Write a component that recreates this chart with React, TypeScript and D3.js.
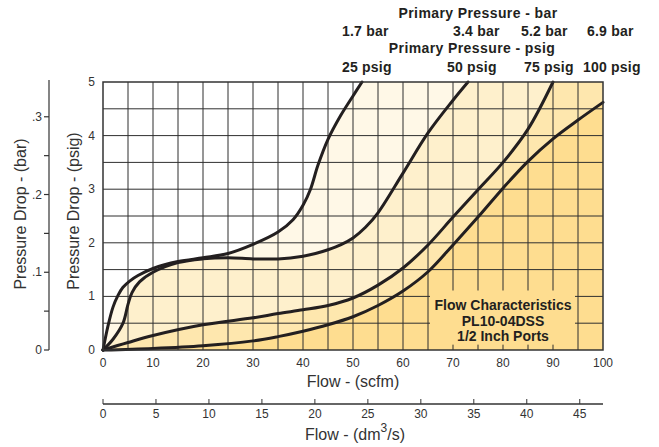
import React, { useRef, useEffect } from "react";
import * as d3 from "d3";

// flow (scfm) vs pressure drop (psig), one curve per primary pressure
const curve25psig: [number, number][] = [
    [0, 0], [1, 0.45], [2, 0.8], [3, 1.02], [4, 1.17], [5.4, 1.29], [7, 1.39], [10, 1.52],
    [15, 1.65], [20, 1.72], [25, 1.8], [30, 1.97], [35, 2.2], [38, 2.43], [40, 2.7],
    [41.5, 3.0], [43, 3.45], [45, 3.93], [47.5, 4.37], [50, 4.74], [51.8, 5],
];
const curve50psig: [number, number][] = [
    [0, 0], [2, 0.2], [4, 0.5], [5, 0.85], [5.8, 1.07], [7.3, 1.27], [10, 1.45], [15, 1.63],
    [20, 1.7], [25, 1.72], [30, 1.7], [35, 1.7], [40, 1.75], [42.5, 1.8], [45, 1.87],
    [47.5, 1.96], [50, 2.09], [52.5, 2.29], [55, 2.56], [60, 3.3], [65, 4.05], [70, 4.66], [73, 5],
];
const curve75psig: [number, number][] = [
    [0, 0], [5, 0.14], [10, 0.27], [20, 0.47], [30, 0.6], [35, 0.68], [40, 0.75], [45, 0.83],
    [50, 0.97], [55, 1.21], [60, 1.53], [65, 1.96], [70, 2.48], [75, 2.99], [80, 3.5],
    [85, 4.12], [90, 5],
];
const curve100psig: [number, number][] = [
    [0, 0], [10, 0.03], [20, 0.08], [30, 0.17], [35, 0.25], [40, 0.35], [45, 0.47], [50, 0.62],
    [55, 0.83], [60, 1.1], [65, 1.46], [70, 1.96], [75, 2.48], [80, 3.02], [85, 3.52],
    [90, 3.94], [95, 4.29], [100, 4.62],
];

const flowTicks = [0, 10, 20, 30, 40, 50, 60, 70, 80, 90, 100];
const dm3Ticks = [0, 5, 10, 15, 20, 25, 30, 35, 40, 45];
const psigTicks = [0, 1, 2, 3, 4, 5];
const barTicks = [0, 0.1, 0.2, 0.3];
const barMinorTicks = [0.05, 0.15, 0.25];

const barLabels = ["1.7 bar", "3.4 bar", "5.2 bar", "6.9 bar"];
const psigLabels = ["25 psig", "50 psig", "75 psig", "100 psig"];
const legendLines = ["Flow Characteristics", "PL10-04DSS", "1/2 Inch Ports"];

const SCFM_PER_DM3S = 2.1189;
const PSI_PER_BAR = 14.5038;

const font = "'Liberation Sans', Arial, Helvetica, sans-serif";
const fills = ["#fff8e7", "#fef0cc", "#fee7ae", "#fedd90"];

const FlowChart: React.FC = () => {
    const svgRef = useRef<SVGSVGElement | null>(null);

    useEffect(() => {
        if (!svgRef.current) return;
        const svg = d3.select(svgRef.current);
        svg.selectAll("*").remove();

        const x = d3.scaleLinear().domain([0, 100]).range([103, 603]);
        const y = d3.scaleLinear().domain([0, 5]).range([350, 82]);
        const yBar = d3.scaleLinear().domain([0, 5 / PSI_PER_BAR]).range([350, 82]);
        const xDm3 = d3.scaleLinear().domain([0, 100 / SCFM_PER_DM3S]).range([103, 603]);

        const line = d3
            .line<[number, number]>()
            .x((d) => x(d[0]))
            .y((d) => y(d[1]))
            .curve(d3.curveCatmullRom.alpha(0.5));

        const curves = [curve25psig, curve50psig, curve75psig, curve100psig];

        // shaded bands under each curve, lightest first
        curves.forEach((pts, i) => {
            const last = pts[pts.length - 1];
            svg.append("path")
                .attr("d", `${line(pts)}L${x(100)},${y(last[1])}L${x(100)},${y(0)}Z`)
                .attr("fill", fills[i]);
        });

        // grid
        const grid = svg.append("g").attr("stroke", "#2f2f2f").attr("stroke-width", 1);
        d3.range(5, 100, 5).forEach((v) => {
            grid.append("line")
                .attr("x1", x(v)).attr("x2", x(v))
                .attr("y1", y(0)).attr("y2", y(5));
        });
        d3.range(0.5, 5, 0.5).forEach((v) => {
            grid.append("line")
                .attr("x1", x(0)).attr("x2", x(100))
                .attr("y1", y(v)).attr("y2", y(v));
        });

        // legend box covering the grid
        svg.append("rect")
            .attr("x", x(65.4)).attr("y", y(1.11))
            .attr("width", x(94.4) - x(65.4))
            .attr("height", y(0.1) - y(1.11))
            .attr("fill", fills[3]);
        svg.append("g")
            .selectAll("text")
            .data(legendLines)
            .enter()
            .append("text")
            .attr("x", 503)
            .attr("y", (d, i) => 310 + i * 15.5)
            .attr("text-anchor", "middle")
            .style("font", `bold 14px ${font}`)
            .attr("fill", "#231f20")
            .text((d) => d);

        // curves
        curves.forEach((pts) => {
            svg.append("path")
                .attr("d", line(pts))
                .attr("fill", "none")
                .attr("stroke", "#231f20")
                .attr("stroke-width", 3)
                .attr("stroke-linecap", "round")
                .attr("stroke-linejoin", "round");
        });

        // plot frame
        svg.append("rect")
            .attr("x", x(0)).attr("y", y(5))
            .attr("width", x(100) - x(0)).attr("height", y(0) - y(5))
            .attr("fill", "none")
            .attr("stroke", "#333")
            .attr("stroke-width", 1.5);

        const tickStyle = `12px ${font}`;

        // scfm labels
        svg.append("g")
            .selectAll("text")
            .data(flowTicks)
            .enter()
            .append("text")
            .attr("x", (d) => x(d))
            .attr("y", 367)
            .attr("text-anchor", "middle")
            .style("font", tickStyle)
            .attr("fill", "#333")
            .text((d) => d);

        svg.append("text")
            .attr("x", 353).attr("y", 387)
            .attr("text-anchor", "middle")
            .style("font", `16px ${font}`)
            .attr("fill", "#333")
            .text("Flow - (scfm)");

        // psig labels
        svg.append("g")
            .selectAll("text")
            .data(psigTicks)
            .enter()
            .append("text")
            .attr("x", 95)
            .attr("y", (d) => y(d) + 4)
            .attr("text-anchor", "end")
            .style("font", tickStyle)
            .attr("fill", "#333")
            .text((d) => d);

        svg.append("text")
            .attr("transform", "translate(79,211) rotate(-90)")
            .attr("text-anchor", "middle")
            .style("font", `16px ${font}`)
            .attr("fill", "#333")
            .text("Pressure Drop - (psig)");

        // bar axis
        const barAxis = svg.append("g").attr("stroke", "#333").attr("stroke-width", 1.2);
        barAxis.append("line")
            .attr("x1", 49).attr("x2", 49)
            .attr("y1", 80).attr("y2", yBar(0));
        [...barTicks, ...barMinorTicks].forEach((v) => {
            barAxis.append("line")
                .attr("x1", 44).attr("x2", 49)
                .attr("y1", yBar(v)).attr("y2", yBar(v));
        });
        svg.append("g")
            .selectAll("text")
            .data(barTicks)
            .enter()
            .append("text")
            .attr("x", 42)
            .attr("y", (d) => yBar(d) + 4)
            .attr("text-anchor", "end")
            .style("font", tickStyle)
            .attr("fill", "#333")
            .text((d) => (d === 0 ? "0" : d3.format(".1f")(d).replace(/^0/, "")));

        svg.append("text")
            .attr("transform", "translate(26,214) rotate(-90)")
            .attr("text-anchor", "middle")
            .style("font", `16px ${font}`)
            .attr("fill", "#333")
            .text("Pressure Drop - (bar)");

        // dm3/s axis
        const dmAxis = svg.append("g").attr("stroke", "#333").attr("stroke-width", 1.5);
        dmAxis.append("line")
            .attr("x1", xDm3(0)).attr("x2", xDm3(100 / SCFM_PER_DM3S))
            .attr("y1", 404).attr("y2", 404);
        dm3Ticks.forEach((v) => {
            dmAxis.append("line")
                .attr("x1", xDm3(v)).attr("x2", xDm3(v))
                .attr("y1", 399).attr("y2", 404)
                .attr("stroke-width", 1);
        });
        svg.append("g")
            .selectAll("text")
            .data(dm3Ticks)
            .enter()
            .append("text")
            .attr("x", (d) => xDm3(d))
            .attr("y", 418)
            .attr("text-anchor", "middle")
            .style("font", tickStyle)
            .attr("fill", "#333")
            .text((d) => d);

        const dmTitle = svg.append("text")
            .attr("x", 355).attr("y", 440)
            .attr("text-anchor", "middle")
            .style("font", `16px ${font}`)
            .attr("fill", "#333");
        dmTitle.append("tspan").text("Flow - (dm");
        dmTitle.append("tspan").attr("dy", -8).style("font-size", "12px").text("3");
        dmTitle.append("tspan").attr("dy", 8).text("/s)");

        // primary pressure header
        const header = `bold 14px ${font}`;
        svg.append("text")
            .attr("x", 478).attr("y", 18)
            .attr("text-anchor", "middle")
            .style("font", header)
            .style("letter-spacing", "0.4px")
            .attr("fill", "#231f20")
            .text("Primary Pressure - bar");
        svg.append("text")
            .attr("x", 472).attr("y", 53)
            .attr("text-anchor", "middle")
            .style("font", header)
            .style("letter-spacing", "0.4px")
            .attr("fill", "#231f20")
            .text("Primary Pressure - psig");

        const barLabelX = [342, 453, 521, 587];
        const psigLabelX = [342, 447, 524, 583];
        svg.append("g")
            .selectAll("text")
            .data(barLabels)
            .enter()
            .append("text")
            .attr("x", (d, i) => barLabelX[i])
            .attr("y", 36)
            .style("font", header)
            .style("letter-spacing", "0.2px")
            .attr("fill", "#231f20")
            .text((d) => d);
        svg.append("g")
            .selectAll("text")
            .data(psigLabels)
            .enter()
            .append("text")
            .attr("x", (d, i) => psigLabelX[i])
            .attr("y", 72)
            .style("font", header)
            .style("letter-spacing", "0.2px")
            .attr("fill", "#231f20")
            .text((d) => d);
    }, []);

    return (
        <div>
            <style>{`body { margin: 0; }`}</style>
            <svg ref={svgRef} width={659} height={447} style={{ display: "block", background: "#fff" }} />
        </div>
    );
};

export default function App() {
    return <FlowChart />;
}
